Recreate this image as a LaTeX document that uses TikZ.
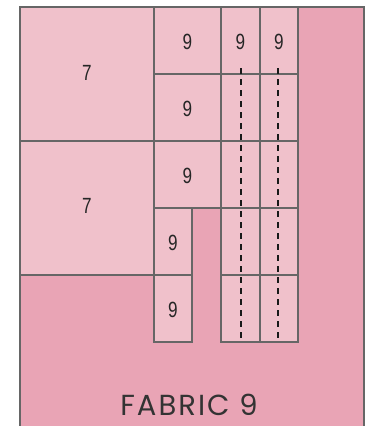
\documentclass[tikz,border=0pt]{standalone}
\usepackage{fontspec}
\newfontfamily\numfont[FakeStretch=0.78]{Liberation Sans}
\newfontfamily\labelfont[LetterSpace=7]{Poppins}
\definecolor{fabricpink}{HTML}{E9A4B5}
\definecolor{piecepink}{HTML}{F0C1CB}
\definecolor{edgegray}{HTML}{666666}
\tikzset{
  piece/.style={fill=piecepink,draw=edgegray,line width=1.1pt},
  num/.style={font=\numfont\fontsize{22}{22}\selectfont,text=black!85},
  seam/.style={black!90,line width=1.6pt,dash pattern=on 6pt off 5pt}
}

\begin{document}
\begin{tikzpicture}[x=1pt,y=-1pt]
  \useasboundingbox (0,0) rectangle (371,426);
  \fill[fabricpink] (20,7) rectangle (364,426);
  \draw[edgegray,line width=1.1pt] (20,426) -- (20,7) -- (364,7) -- (364,426);
  % large pieces
  \draw[piece] (20,7) rectangle (154,141);
  \draw[piece] (20,141) rectangle (154,275);
  \node[num] (big1) at (87,73) {7};
  \node[num] (big2) at (87,206) {7};
  % square pieces
  \foreach \y/\n in {7/sqa,74/sqb,141/sqc}{
    \draw[piece] (154,\y) rectangle (221,\y+67);
    \node[num] (\n) at (187.5,\y+35) {9};
  }
  % narrow pieces
  \foreach \y/\n in {208/nra,275/nrb}{
    \draw[piece] (154,\y) rectangle (192,\y+67);
    \node[num] (\n) at (173,\y+35) {9};
  }
  % strips
  \foreach \y in {7,74,141,208,275}{
    \draw[piece] (221,\y) rectangle (260,\y+67);
    \draw[piece] (260,\y) rectangle (298,\y+67);
  }
  \node[num] (stra) at (240.5,42) {9};
  \node[num] (strb) at (279,42) {9};
  \coordinate (cuta) at (241,68); \coordinate (cutb) at (278,68);
  \draw[seam] (cuta) -- (241,342);
  \draw[seam] (cutb) -- (278,342);
  \node[font=\labelfont\fontsize{29}{29}\selectfont,text=black!80] (fab) at (189,405) {FABRIC 9};
\end{tikzpicture}
\end{document}
